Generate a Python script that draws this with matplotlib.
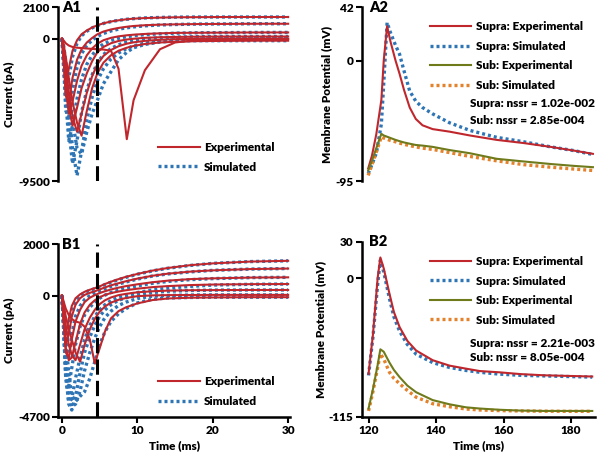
import matplotlib
matplotlib.use("Agg")
import matplotlib.pyplot as plt

plt.rcParams["font.family"] = ["Lato", "DejaVu Sans"]
plt.rcParams["font.weight"] = "heavy"
plt.rcParams["axes.labelweight"] = "heavy"

red = "#C0272D"
blue = "#2E75B6"
olive = "#6F7A1B"
orange = "#E4812B"

# A1: current traces, shared time grid (ms)
a1_t = [0, 0.2, 0.5, 0.9, 1.4, 2.0, 2.6, 3.3, 4.0, 4.7, 5.5, 6.5, 7.5, 8.6, 9.5, 11, 13, 15, 18, 22, 26, 30]
a1_exp = [
    [0, -1500, -3200, -2000, -800, -100, 300, 550, 750, 900, 1030, 1150, 1230, 1300, 1340, 1380, 1410, 1430, 1440, 1450, 1450, 1450],
    [0, -1200, -3800, -4300, -2600, -1400, -700, -250, 50, 300, 480, 620, 720, 800, 850, 900, 940, 960, 980, 990, 1000, 1000],
    [0, -900, -3300, -5000, -4200, -2800, -1800, -1100, -650, -330, -100, 60, 160, 230, 270, 320, 360, 390, 400, 410, 420, 420],
    [0, -700, -2500, -4500, -5800, -4600, -3300, -2300, -1500, -900, -550, -300, -150, -50, 0, 60, 100, 120, 140, 150, 150, 150],
    [0, -500, -1800, -3600, -5200, -6200, -5000, -3600, -2500, -1700, -1150, -750, -500, -330, -240, -140, -70, -30, -10, 0, 0, 0],
    [0, -300, -1200, -2600, -4200, -5600, -6470, -4800, -3300, -2300, -1600, -1100, -800, -600, -480, -350, -250, -200, -160, -140, -130, -130],
    [0, -100, -300, -450, -550, -600, -620, -650, -680, -700, -720, -800, -2000, -6700, -4100, -2100, -700, -250, -80, -30, -20, -20],
]
a1_sim = [
    [0, -1800, -3600, -2600, -1200, -300, 200, 500, 720, 880, 1020, 1140, 1230, 1300, 1340, 1390, 1420, 1440, 1450, 1450, 1450, 1450],
    [0, -1500, -4800, -5200, -3400, -1900, -1000, -450, -100, 150, 350, 520, 640, 730, 790, 860, 920, 950, 980, 990, 1000, 1000],
    [0, -1100, -4000, -6800, -5800, -4000, -2700, -1700, -1100, -650, -350, -120, 30, 140, 200, 270, 330, 370, 400, 410, 420, 420],
    [0, -800, -3000, -6000, -8330, -6800, -4900, -3400, -2400, -1600, -1050, -650, -400, -220, -120, 0, 70, 110, 140, 150, 150, 150],
    [0, -600, -2200, -4500, -7300, -9130, -7500, -5400, -3900, -2800, -2000, -1350, -950, -650, -480, -290, -150, -70, -20, 0, 0, 0],
    [0, -400, -1500, -3200, -5500, -7300, -7700, -6200, -5000, -4100, -3000, -2200, -1400, -900, -600, -380, -220, -150, -130, -130, -130, -130],
]

# B1: current traces
b1_t = [0, 0.2, 0.5, 0.9, 1.3, 1.8, 2.4, 3.0, 3.7, 4.35, 5.0, 5.7, 6.5, 7.5, 8.5, 10, 12, 14, 17, 20, 25, 30]
b1_exp = [
    [0, -800, -1500, -900, -400, -100, 50, 150, 230, 290, 360, 450, 540, 640, 730, 840, 970, 1070, 1180, 1250, 1320, 1350],
    [0, -900, -1900, -1500, -800, -350, -100, 30, 110, 170, 240, 320, 400, 480, 560, 660, 770, 850, 930, 980, 1030, 1050],
    [0, -900, -2200, -2400, -1700, -1000, -550, -250, -80, 20, 100, 170, 240, 310, 370, 440, 520, 580, 640, 670, 700, 710],
    [0, -700, -2000, -2500, -2400, -1800, -1100, -650, -350, -180, -60, 30, 100, 160, 210, 270, 330, 370, 410, 430, 445, 450],
    [0, -400, -1200, -1900, -2300, -2500, -1900, -1300, -850, -550, -330, -180, -70, 20, 70, 130, 170, 195, 210, 215, 220, 220],
    [0, -300, -800, -1300, -1700, -2200, -2560, -1900, -1300, -900, -620, -420, -270, -160, -90, -20, 10, 20, 25, 30, 30, 30],
    [0, -200, -500, -750, -900, -1000, -1050, -1200, -1700, -2620, -2040, -1390, -880, -600, -450, -300, -170, -110, -80, -70, -60, -60],
]
b1_sim = [
    [0, -900, -1900, -1400, -700, -250, 0, 120, 210, 270, 340, 430, 520, 620, 710, 830, 960, 1060, 1170, 1250, 1320, 1350],
    [0, -1100, -2600, -2400, -1500, -800, -400, -150, 0, 100, 180, 270, 360, 450, 530, 640, 760, 840, 920, 980, 1030, 1050],
    [0, -1200, -3100, -3500, -2800, -1900, -1200, -750, -450, -250, -100, 20, 120, 210, 290, 380, 480, 550, 620, 660, 700, 710],
    [0, -1100, -3200, -4100, -4000, -3200, -2400, -1700, -1150, -800, -550, -350, -190, -60, 20, 120, 220, 290, 360, 410, 440, 450],
    [0, -900, -2900, -4200, -4430, -3900, -3000, -2200, -1600, -1150, -800, -550, -350, -180, -80, 30, 120, 170, 200, 215, 220, 220],
    [0, -700, -2300, -3600, -4300, -4200, -3700, -2900, -2200, -1650, -1200, -850, -600, -380, -250, -110, -20, 10, 25, 30, 30, 30],
    [0, -500, -1700, -3000, -3900, -4100, -3900, -3720, -3200, -2560, -1900, -1400, -1000, -700, -500, -280, -140, -90, -70, -60, -60, -60],
]

# A2: membrane potential (mV)
a2_t = [119.9, 121, 122.3, 123.8, 124.5, 125.5, 126.5, 128, 129.2, 130.5, 132.2, 134, 136, 139, 144, 150, 158, 166, 174, 181, 186.5]
a2_supra_exp = [-85, -75, -58, -31, 0, 27, 15, 0, -10.5, -23, -37, -46, -51, -54, -56, -59, -62.5, -65, -68, -71, -73.5]
a2_supra_sim = [-89, -82, -73, -50, -18, 30, 22, 12, 5, -8, -24, -32, -37, -42, -49, -55, -60.5, -64, -68, -71, -74]
a2_sub_exp = [-86.6, -79, -69, -57.7, -59, -60, -61, -62.5, -63.5, -64.5, -65.5, -66.5, -67, -68, -70.5, -73, -77.4, -79.5, -81.5, -83, -84]
a2_sub_sim = [-90.5, -82, -72, -60, -61, -62, -63, -64, -65, -66, -67, -68, -69, -70, -72.5, -75.5, -79, -82, -84, -85.5, -86.6]

# B2: membrane potential (mV)
b2_t = [120, 121.3, 122.7, 123.5, 124.5, 126.2, 127.5, 129.2, 131.5, 134.1, 139, 144, 148.9, 153, 158.7, 165, 172, 179, 186.3]
b2_supra_exp = [-79.3, -47, 0, 17, 8, -13, -28, -40.6, -52, -60, -68, -72.5, -75, -77, -78, -79.5, -80.5, -81, -81.5]
b2_supra_sim = [-80.6, -49, -5, 15, 5, -17, -32, -44, -55, -63, -70, -74, -76.5, -78, -79.5, -80.5, -81, -81.5, -82]
b2_sub_exp = [-108, -92, -72, -59, -61, -70, -76, -82, -89, -94.5, -101, -104.5, -107, -108, -109, -109.7, -110, -110, -110]
b2_sub_sim = [-110, -94, -74, -62.7, -67, -78, -83, -87.5, -93, -98.6, -104, -106.5, -108.4, -109.2, -109.7, -110, -110.2, -110.3, -110.3]

a2_nssr = ["Supra: nssr = 1.02e-002", "Sub: nssr = 2.85e-004"]
b2_nssr = ["Supra: nssr = 2.21e-003", "Sub: nssr = 8.05e-004"]

dot = (0, (0.9, 0.9))
fs = 8.5

fig = plt.figure(figsize=(6, 4.54), dpi=100)
ax_a1 = fig.add_axes([0.097, 0.601, 0.387, 0.383])
ax_b1 = fig.add_axes([0.097, 0.0815, 0.387, 0.381])
ax_a2 = fig.add_axes([0.603, 0.601, 0.388, 0.383])
ax_b2 = fig.add_axes([0.603, 0.0815, 0.388, 0.386])


def style(ax, yticks, ylabel, xticks=None, xlabel=None):
    for s in ["top", "right"]:
        ax.spines[s].set_visible(False)
    ax.spines["left"].set_linewidth(1.8)
    ax.set_yticks(yticks)
    ax.set_yticklabels([str(v) for v in yticks], fontsize=fs)
    ax.set_ylim(yticks[-1], yticks[0])
    ax.tick_params(width=1.5, length=4, pad=2)
    ax.set_ylabel(ylabel, fontsize=fs, labelpad=2)
    if xticks is None:
        ax.spines["bottom"].set_visible(False)
        ax.set_xticks([])
    else:
        ax.spines["bottom"].set_linewidth(1.8)
        ax.set_xticks(xticks)
        ax.set_xticklabels([str(v) for v in xticks], fontsize=fs)
        ax.set_xlabel(xlabel, fontsize=fs, labelpad=3)


leg_kw = dict(frameon=False, fontsize=fs, handlelength=3.5, handletextpad=0.4,
              labelspacing=0.72, borderpad=0, borderaxespad=0, loc="upper left")

# current panels
for ax, t, exp, sim, lab, ly in [(ax_a1, a1_t, a1_exp, a1_sim, "A1", 0.225),
                                 (ax_b1, b1_t, b1_exp, b1_sim, "B1", 0.235)]:
    for k, v in enumerate(exp):
        ax.plot(t, v, color=red, lw=1.5, label="Experimental" if k == 0 else None, zorder=3)
    for k, v in enumerate(sim):
        ax.plot(t, v, color=blue, lw=2.4, ls=dot, label="Simulated" if k == 0 else None, zorder=2)
    ax.axvline(4.7, color="black", lw=2.2, ls=(0, (5, 2)), zorder=5)
    ax.set_xlim(-0.5, 30.3)
    ax.text(0.018, 1.0, lab, transform=ax.transAxes, fontsize=10.5, va="center")
    ax.legend(bbox_to_anchor=(0.431, ly), **leg_kw)

style(ax_a1, [2100, 0, -9500], "Current (pA)")
style(ax_b1, [2000, 0, -4700], "Current (pA)", [0, 10, 20, 30], "Time (ms)")

# voltage panels
for ax, t, se, ss, be, bs, nssr, lab, ly, ny in [
    (ax_a2, a2_t, a2_supra_exp, a2_supra_sim, a2_sub_exp, a2_sub_sim, a2_nssr, "A2", 0.92, (0.448, 0.35)),
    (ax_b2, b2_t, b2_supra_exp, b2_supra_sim, b2_sub_exp, b2_sub_sim, b2_nssr, "B2", 0.918, (0.417, 0.337)),
]:
    ax.plot(t, se, color=red, lw=1.5, label="Supra: Experimental", zorder=3)
    ax.plot(t, ss, color=blue, lw=2.4, ls=dot, label="Supra: Simulated", zorder=2)
    ax.plot(t, be, color=olive, lw=1.5, label="Sub: Experimental", zorder=3)
    ax.plot(t, bs, color=orange, lw=2.4, ls=dot, label="Sub: Simulated", zorder=2)
    ax.set_xlim(118, 187)
    ax.text(0.03, 1.0, lab, transform=ax.transAxes, fontsize=10.5, va="center")
    ax.legend(bbox_to_anchor=(0.292, ly), **leg_kw)
    ax.text(0.464, ny[0], nssr[0], transform=ax.transAxes, fontsize=fs, va="center")
    ax.text(0.464, ny[1], nssr[1], transform=ax.transAxes, fontsize=fs, va="center")

style(ax_a2, [42, 0, -95], "Membrane Potential (mV)")
style(ax_b2, [30, 0, -115], "Membrane Potential (mV)", [120, 140, 160, 180], "Time (ms)")

fig.savefig("out.png", dpi=100)
